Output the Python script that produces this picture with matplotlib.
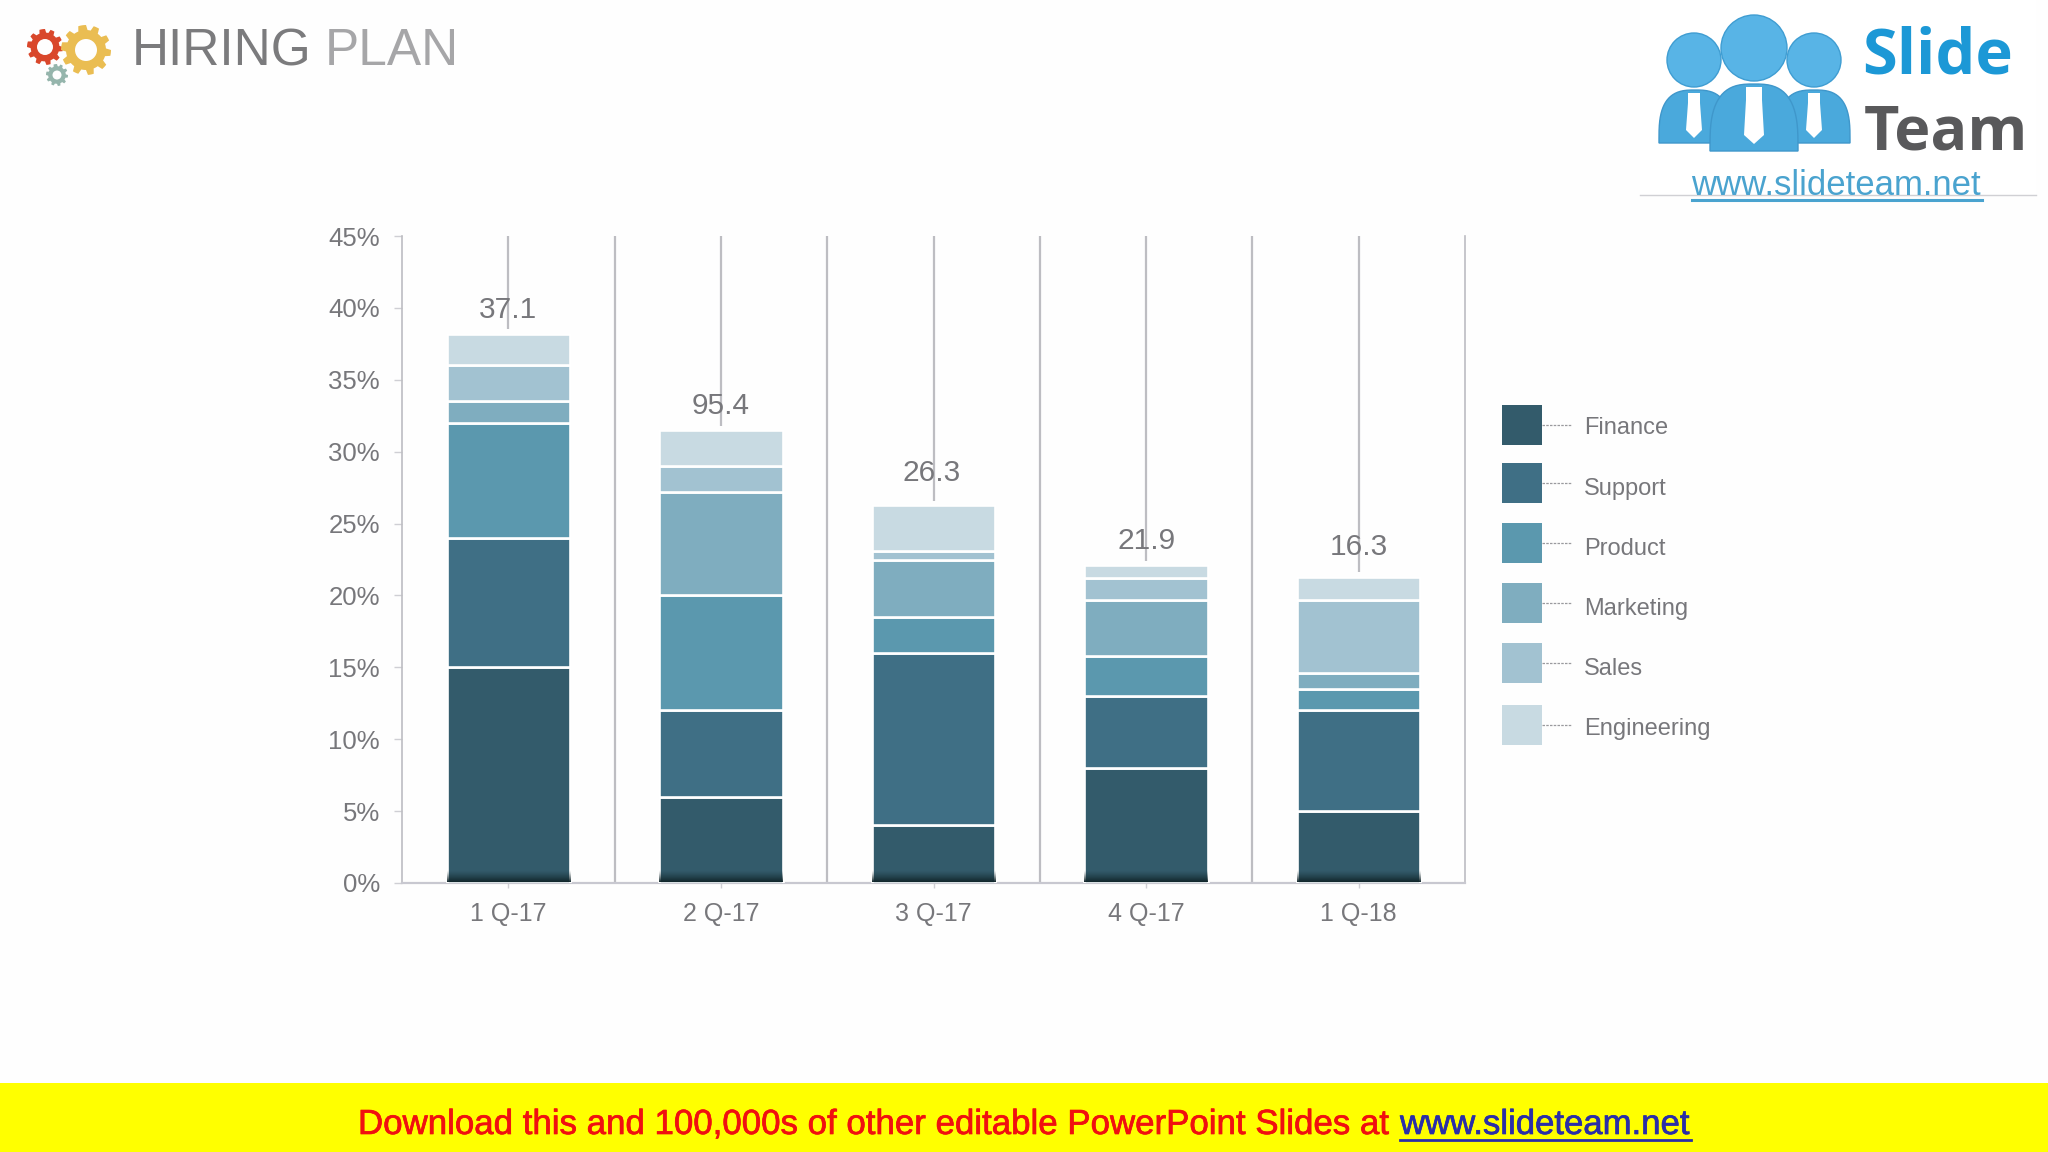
import numpy as np
from matplotlib import pyplot as plt
from matplotlib.patches import Rectangle, Circle, Polygon
import matplotlib.patheffects as pe

plt.rcParams['font.family'] = ['Liberation Sans', 'DejaVu Sans']

quarters = ['1 Q-17', '2 Q-17', '3 Q-17', '4 Q-17', '1 Q-18']
totals = ['37.1', '95.4', '26.3', '21.9', '16.3']
legend_names = ['Finance', 'Support', 'Product', 'Marketing', 'Sales', 'Engineering']

finance = [15, 6, 4, 8, 5]
support = [9, 6, 12, 5, 7]
product = [8, 8, 2.5, 2.8, 1.5]
marketing = [1.5, 7.2, 4, 3.9, 1.1]
sales = [2.5, 1.8, 0.6, 1.5, 5.1]
engineering = [2.2, 2.5, 3.2, 0.9, 1.6]

colors = ['#335b6b', '#3f6f85', '#5b98ae', '#7fadbf', '#a2c2d1', '#c8dae2']
text_grey = '#77777b'
line_grey = '#bdbdc2'

W, H = 2048, 1152
fig = plt.figure(figsize=(W / 100, H / 100), dpi=100, facecolor='#fefefe')

# background layer in pixel coordinates
bg = fig.add_axes([0, 0, 1, 1], zorder=0)
bg.set_xlim(0, W)
bg.set_ylim(H, 0)
bg.axis('off')


def gear(cx, cy, r, hole, color, teeth=10):
    n = teeth * 8
    t = np.linspace(0, 2 * np.pi, n, endpoint=False)
    rad = np.where((t * teeth / (2 * np.pi)) % 1 < 0.5, r, r * 0.8)
    bg.add_patch(Polygon(np.c_[cx + rad * np.cos(t), cy + rad * np.sin(t)], closed=True, fc=color, ec='none'))
    bg.add_patch(Circle((cx, cy), hole, fc='#fefefe', ec='none'))


def person(cx, head_y, head_r, left, right, top, bottom, tie):
    t = np.linspace(np.pi, 0, 40)
    mid = (left + right) / 2
    half = (right - left) / 2
    px = mid + half * np.sign(np.cos(t)) * np.abs(np.cos(t)) ** 0.7
    py = bottom - 4 - (bottom - 4 - top) * np.sin(t) ** 0.7
    pts = np.r_[np.c_[px, py], [[right, bottom], [left, bottom]]]
    bg.add_patch(Polygon(pts, closed=True, fc='#4aa9dc', ec='#3f97cb', lw=1))
    bg.add_patch(Circle((cx, head_y), head_r, fc='#58b4e6', ec='#3f9dd2', lw=1))
    top_w, wide_w, neck_y, wide_y, tip_y = tie
    tie_pts = [[cx - top_w, top + 3], [cx + top_w, top + 3], [cx + top_w, neck_y], [cx + wide_w, wide_y],
               [cx, tip_y], [cx - wide_w, wide_y], [cx - top_w, neck_y]]
    bg.add_patch(Polygon(tie_pts, closed=True, fc='white', ec='none'))


gear(45, 47, 18, 8, '#d9472b')
gear(86, 50, 25, 11, '#eabd52')
gear(57, 75, 11, 4.5, '#95b5ac')
bg.text(132, 65, 'HIRING', fontsize=37, color='#7b7b7d', ha='left', va='baseline')
bg.text(325, 65, 'PLAN', fontsize=37, color='#a6a6a8', ha='left', va='baseline')

# slideteam logo
bg.add_patch(Rectangle((1640, 0), 396, 195, fc='white', ec='none'))
person(1814, 60, 27, 1778, 1850, 90, 143, (6, 8, 103, 130, 138))
person(1694, 60, 27, 1659, 1731, 90, 143, (6, 8, 103, 130, 138))
person(1754, 48, 33, 1710, 1798, 84, 151, (8, 10, 100, 135, 144))
bg.text(1862, 74, 'Slide', fontsize=45.5, fontweight='bold', family='Open Sans', color='#1c98d6', va='baseline')
bg.text(1864, 150, 'Team', fontsize=44, fontweight='bold', family='Open Sans', color='#59595b', va='baseline')
bg.text(1691, 195, 'www.slideteam.net', fontsize=25, color='#4aa3cf', va='baseline')
bg.plot([1640, 2036], [195, 195], color='#d0d0d4', lw=1)
bg.plot([1692, 1982], [200, 200], color='#4aa3cf', lw=2.2)

# legend
swatch_tops = [405, 463, 523, 583, 643, 705]
label_y = [428, 489, 549, 609, 669, 729]
for i, name in enumerate(legend_names):
    y0 = swatch_tops[i]
    bg.add_patch(Rectangle((1502, y0), 40, 40, fc=colors[i], ec='none'))
    bg.plot([1542, 1571], [y0 + 20, y0 + 20], color='#9a9a9e', lw=0.9, ls=(0, (2, 1)))
    bg.text(1584, label_y[i], name, fontsize=17, color=text_grey, va='center')

# download banner
heavy = [pe.withStroke(linewidth=0.5, foreground='#f01010')]
heavy_link = [pe.withStroke(linewidth=0.5, foreground='#2a2ea8')]
bg.add_patch(Rectangle((0, 1083), W, H - 1083, fc='#ffff00', ec='none'))
bg.text(358, 1134, 'Download this and 100,000s of other editable PowerPoint Slides at ', fontsize=25.1,
        color='#f01010', va='baseline', path_effects=heavy)
bg.text(1400, 1134, 'www.slideteam.net', fontsize=25, color='#2a2ea8', va='baseline', path_effects=heavy_link)
bg.plot([1400, 1691], [1140, 1140], color='#2a2ea8', lw=2)

# chart
ax = fig.add_axes([402 / W, 1 - 883 / H, (1465 - 402) / W, (883 - 236) / H], zorder=1)
ax.patch.set_alpha(0)
x = np.arange(len(quarters))
bar_w = 0.58
series = [finance, support, product, marketing, sales, engineering]
bottom = np.zeros(len(x))
for vals, c in zip(series, colors):
    ax.bar(x, vals, bar_w, bottom=bottom, color=c, edgecolor='white', linewidth=1.9, zorder=3)
    bottom = bottom + np.array(vals)

# dark shading along the foot of each bar
shade = np.zeros((32, 1, 4))
shade[:, 0, :3] = [0.07, 0.15, 0.17]
shade[:, 0, 3] = np.linspace(1, 0, 32) ** 1.3
for xi in x:
    ax.imshow(shade, extent=[xi - bar_w / 2, xi + bar_w / 2, 0.05, 0.85], origin='lower', aspect='auto', zorder=4)

ax.vlines(x, bottom + 0.3, 45, color=line_grey, lw=1.6, zorder=2)
ax.vlines(x[:-1] + 0.5, 0, 45, color=line_grey, lw=1.6, zorder=2)
label_dy = [11.5, 11.6, 17.2, 11.7, 15.7]
label_dx = [0, 0, -1.5, 0, 0]
for i, lab in enumerate(totals):
    ax.annotate(lab, (x[i], bottom[i]), xytext=(label_dx[i], label_dy[i]), textcoords='offset points',
                ha='center', va='baseline', fontsize=21.5, color=text_grey, zorder=5)

ax.set_xlim(-0.5, len(x) - 0.5)
ax.set_ylim(0, 45)
ax.set_xticks(x, quarters)
ax.set_yticks(np.arange(0, 46, 5), [str(v) + '%' for v in range(0, 46, 5)])
ax.tick_params(axis='y', length=5.5, width=1, color='#cfcfd4', pad=10.5, labelsize=18.5, labelcolor=text_grey)
ax.tick_params(axis='x', length=3.5, width=1, color='#cfcfd4', pad=10.5, labelsize=18, labelcolor=text_grey)
for t in ax.get_yticklabels():
    t.set_va('center_baseline')
ax.spines['top'].set_visible(False)
ax.spines['left'].set_color(line_grey)
ax.spines['right'].set_color(line_grey)
ax.spines['bottom'].set_color('#c8c8d0')
ax.spines['left'].set_linewidth(1.2)
ax.spines['right'].set_linewidth(1.2)
ax.spines['bottom'].set_linewidth(1.6)

plt.savefig('out.png', dpi=100, facecolor=fig.get_facecolor())
